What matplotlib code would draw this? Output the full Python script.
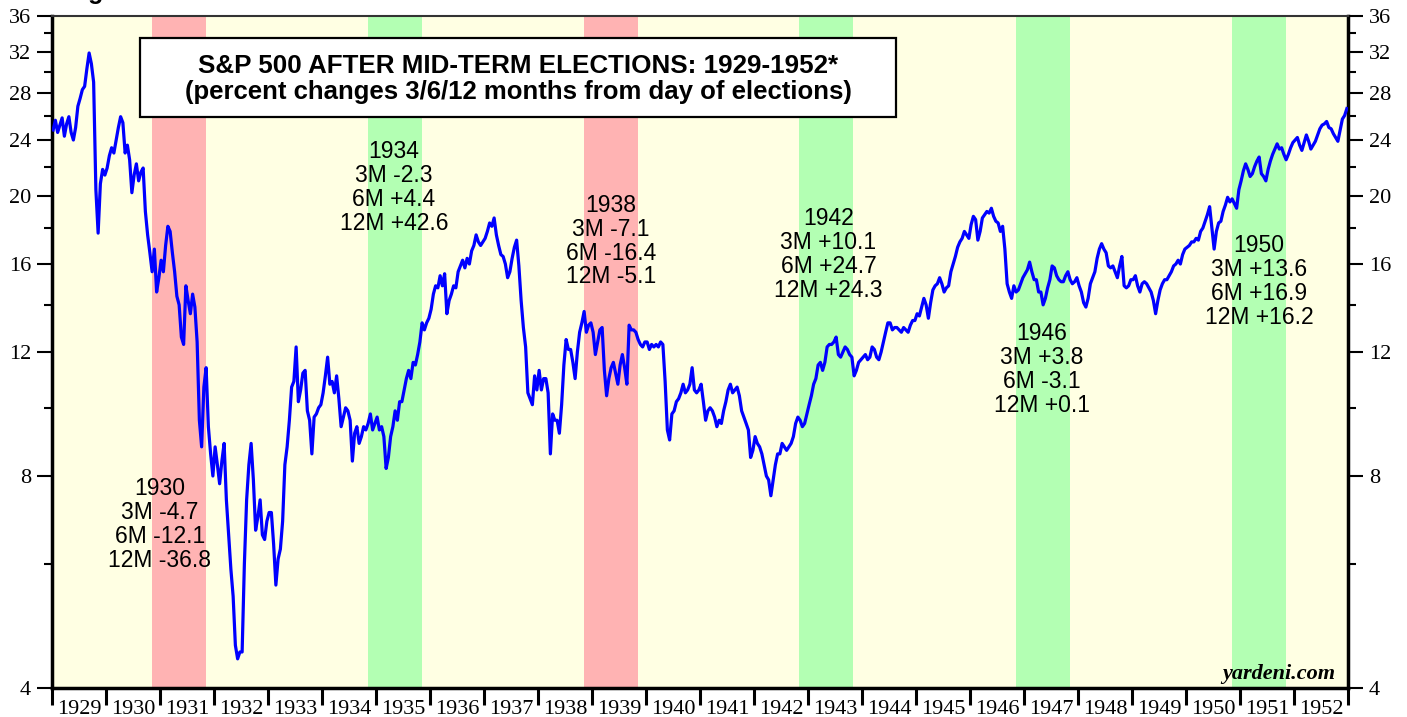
import numpy as np
import matplotlib
matplotlib.use("Agg")
import matplotlib.pyplot as plt
from matplotlib.ticker import FixedLocator, FixedFormatter, NullFormatter
from matplotlib.patches import Rectangle

# ---------------- data (semi-monthly S&P 500 readings, 1929-1952) ----------------
sp_1929 = [24.8, 25.6, 24.6, 25.2, 25.8, 24.3, 25.3, 25.9, 24.6, 24.0, 25.0, 26.8,
           27.5, 28.3, 28.6, 30.3, 31.9, 30.8, 29.0, 20.4, 17.7, 20.8, 21.8, 21.4]
sp_1930 = [21.9, 22.8, 23.4, 23.0, 24.0, 25.0, 25.9, 25.4, 23.0, 23.6, 22.5, 20.2,
           21.4, 22.2, 21.0, 21.6, 21.9, 19.0, 17.6, 16.6, 15.6, 16.8, 14.6, 15.3]
sp_1931 = [16.2, 15.6, 17.0, 18.1, 17.8, 16.6, 15.6, 14.4, 14.0, 12.6, 12.3, 14.9,
           14.2, 13.6, 14.5, 13.9, 12.4, 9.6, 8.8, 10.7, 11.4, 9.4, 8.6, 8.0]
sp_1932 = [8.8, 8.3, 7.8, 8.4, 8.9, 7.4, 6.6, 5.9, 5.4, 4.6, 4.4, 4.5,
           4.5, 6.0, 7.4, 8.3, 8.9, 7.9, 6.7, 7.0, 7.4, 6.6, 6.5, 6.9]
sp_1933 = [7.1, 7.1, 6.4, 5.6, 6.1, 6.3, 6.9, 8.3, 8.8, 9.6, 10.7, 10.9,
           12.2, 10.2, 10.6, 11.2, 11.3, 9.9, 9.6, 8.6, 9.7, 9.8, 10.0, 10.1]
sp_1934 = [10.5, 11.1, 11.8, 10.8, 10.9, 10.5, 11.1, 10.3, 9.4, 9.7, 10.0, 9.9,
           9.6, 8.4, 9.2, 9.4, 8.9, 9.1, 9.4, 9.3, 9.5, 9.8, 9.3, 9.5]
sp_1935 = [9.7, 9.3, 9.4, 9.1, 8.2, 8.5, 9.1, 9.4, 9.9, 9.6, 10.2, 10.2,
           10.6, 11.0, 11.3, 11.0, 11.6, 11.5, 11.9, 12.4, 13.2, 12.9, 13.2, 13.4]
sp_1936 = [13.8, 14.5, 14.9, 14.8, 15.4, 14.9, 15.5, 13.6, 14.2, 14.5, 14.9, 14.8,
           15.6, 15.9, 16.2, 15.8, 16.3, 16.0, 16.7, 17.0, 17.6, 17.2, 17.0, 17.2]
sp_1937 = [17.4, 17.8, 18.3, 18.1, 18.6, 17.6, 17.0, 16.5, 16.4, 16.0, 15.3, 15.6,
           16.3, 16.9, 17.3, 15.9, 14.2, 13.0, 12.2, 10.5, 10.3, 10.1, 11.1, 10.6]
sp_1938 = [11.3, 10.6, 11.0, 11.0, 10.5, 8.6, 9.8, 9.6, 9.6, 9.2, 10.1, 11.5,
           12.5, 12.1, 12.1, 11.6, 11.0, 12.0, 12.8, 13.2, 13.7, 12.8, 13.1, 13.2]
sp_1939 = [12.8, 11.9, 12.4, 12.9, 13.0, 11.3, 10.4, 11.0, 11.4, 11.6, 11.2, 10.8,
           11.5, 11.9, 11.4, 10.8, 13.1, 12.9, 12.9, 12.8, 12.5, 12.3, 12.2, 12.4]
sp_1940 = [12.4, 12.1, 12.3, 12.2, 12.3, 12.2, 12.4, 12.3, 10.9, 9.3, 9.0, 9.8,
           9.9, 10.2, 10.3, 10.5, 10.8, 10.5, 10.6, 10.8, 11.4, 10.6, 10.5, 10.6]
sp_1941 = [10.8, 10.2, 9.6, 9.9, 10.0, 9.9, 9.7, 9.4, 9.6, 9.5, 9.9, 10.2,
           10.6, 10.8, 10.5, 10.6, 10.7, 10.4, 9.9, 9.7, 9.5, 9.3, 8.5, 8.7]
sp_1942 = [9.1, 8.9, 8.8, 8.6, 8.3, 8.0, 7.9, 7.5, 7.9, 8.3, 8.6, 8.6,
           8.9, 8.8, 8.7, 8.8, 8.9, 9.1, 9.5, 9.7, 9.6, 9.4, 9.5, 9.8]
sp_1943 = [10.1, 10.4, 10.8, 11.0, 11.5, 11.6, 11.3, 11.6, 12.2, 12.3, 12.3, 12.4,
           12.6, 11.9, 11.8, 12.0, 12.2, 12.1, 11.9, 11.8, 11.1, 11.3, 11.6, 11.7]
sp_1944 = [11.8, 11.9, 11.7, 11.8, 12.2, 12.1, 11.8, 11.7, 12.0, 12.4, 12.8, 13.2,
           13.2, 12.9, 13.0, 13.0, 12.9, 12.8, 13.0, 12.9, 12.8, 13.1, 13.3, 13.3]
sp_1945 = [13.6, 13.5, 13.9, 14.3, 14.0, 13.4, 14.1, 14.7, 14.9, 15.0, 15.3, 15.0,
           14.6, 14.8, 14.9, 15.6, 16.0, 16.4, 16.9, 17.2, 17.4, 17.8, 17.6, 17.4]
sp_1946 = [18.2, 18.7, 18.5, 17.3, 17.8, 18.6, 18.8, 19.0, 18.9, 19.2, 18.7, 18.4,
           18.3, 17.8, 18.1, 16.8, 15.0, 14.6, 14.3, 14.9, 14.6, 14.7, 15.0, 15.3]
sp_1947 = [15.5, 15.7, 16.1, 15.6, 15.2, 15.2, 14.6, 14.6, 14.0, 14.3, 14.8, 15.2,
           15.9, 15.8, 15.4, 15.2, 15.1, 15.1, 15.4, 15.6, 15.2, 15.0, 15.1, 15.3]
sp_1948 = [14.9, 14.6, 14.1, 13.9, 14.3, 15.0, 15.3, 15.6, 16.3, 16.8, 17.1, 16.8,
           16.6, 15.9, 15.8, 15.9, 15.6, 15.3, 15.9, 16.4, 14.9, 14.8, 14.9, 15.2]
sp_1949 = [15.2, 15.4, 14.9, 14.6, 15.0, 15.1, 15.0, 14.8, 14.6, 14.2, 13.6, 14.2,
           14.7, 15.0, 15.2, 15.2, 15.4, 15.6, 15.9, 16.0, 16.2, 16.0, 16.5, 16.8]
sp_1950 = [16.9, 17.0, 17.2, 17.2, 17.4, 17.3, 17.8, 18.0, 18.4, 18.8, 19.3, 18.0,
           16.8, 17.8, 18.3, 18.4, 19.0, 19.4, 19.9, 19.6, 19.8, 19.5, 19.2, 20.4]
sp_1951 = [21.0, 21.7, 22.2, 21.8, 21.3, 21.5, 22.0, 22.4, 22.7, 21.5, 21.3, 21.0,
           21.8, 22.4, 22.9, 23.3, 23.7, 23.3, 23.4, 22.9, 22.5, 22.9, 23.4, 23.8]
sp_1952 = [24.0, 24.2, 23.6, 23.2, 23.8, 24.4, 23.9, 23.3, 23.6, 23.9, 24.4, 24.9,
           25.2, 25.3, 25.5, 25.0, 24.9, 24.5, 24.2, 23.9, 24.8, 25.7, 26.0, 26.6]

sp500 = (sp_1929 + sp_1930 + sp_1931 + sp_1932 + sp_1933 + sp_1934 + sp_1935 + sp_1936
         + sp_1937 + sp_1938 + sp_1939 + sp_1940 + sp_1941 + sp_1942 + sp_1943 + sp_1944
         + sp_1945 + sp_1946 + sp_1947 + sp_1948 + sp_1949 + sp_1950 + sp_1951 + sp_1952)
start_year = 1929
dates = start_year + (np.arange(len(sp500)) + 0.5) / 24.0

years = list(range(1929, 1953))
year_labels = [str(y) for y in years]

election_years = [1930, 1934, 1938, 1942, 1946, 1950]
election_doy = [308, 310, 312, 307, 309, 311]        # day of year of election day
election_party = ["R", "D", "R", "D", "D", "D"]     # colour group of each band
band_colors = {"R": "#FFB3B3", "D": "#B3FFB3"}

notes = [
    "1930\n3M -4.7\n6M -12.1\n12M -36.8",
    "1934\n3M -2.3\n6M +4.4\n12M +42.6",
    "1938\n3M -7.1\n6M -16.4\n12M -5.1",
    "1942\n3M +10.1\n6M +24.7\n12M +24.3",
    "1946\n3M +3.8\n6M -3.1\n12M +0.1",
    "1950\n3M +13.6\n6M +16.9\n12M +16.2",
]
note_x = [1931.0, 1935.33, 1939.35, 1943.38, 1947.33, 1951.35]
note_yfrac = [0.2435, 0.745, 0.665, 0.645, 0.474, 0.605]

y_major = [4, 8, 12, 16, 20, 24, 28, 32, 36]
y_minor = [6, 10, 14, 18, 22, 26, 30, 34]

title1 = "S&P 500 AFTER MID-TERM ELECTIONS: 1929-1952*"
title2 = "(percent changes 3/6/12 months from day of elections)"
header = "Figure"

# ---------------- figure ----------------
W, H, DPI = 1407, 717, 100
fig = plt.figure(figsize=(W / DPI, H / DPI), dpi=DPI)
fig.patch.set_facecolor("white")
ax = fig.add_axes([52 / W, (H - 688) / H, 1296 / W, 672 / H])
ax.set_facecolor("#FFFFE3")

for yr, doy, party in zip(election_years, election_doy, election_party):
    s = yr + doy / 365.0
    ax.axvspan(s, s + 1.0, color=band_colors[party], lw=0, zorder=1)

ax.plot(dates, sp500, color="#0000FF", lw=2.3, zorder=3, solid_joinstyle="round")

ax.set_yscale("log")
ax.set_ylim(4, 36)
ax.set_xlim(1929, 1953)

ax.yaxis.set_major_locator(FixedLocator(y_major))
ax.yaxis.set_major_formatter(FixedFormatter([str(v) for v in y_major]))
ax.yaxis.set_minor_locator(FixedLocator(y_minor))
ax.yaxis.set_minor_formatter(NullFormatter())

ax.xaxis.set_major_locator(FixedLocator(years + [1953]))
ax.xaxis.set_major_formatter(NullFormatter())
ax.xaxis.set_minor_locator(FixedLocator([y + 0.5 for y in years]))
ax.xaxis.set_minor_formatter(FixedFormatter(year_labels))

serif = "Liberation Serif"
ax.tick_params(axis="y", which="major", direction="out", length=11, width=1.5,
               left=True, right=True, labelleft=True, labelright=True,
               labelsize=16, pad=4, colors="black")
ax.tick_params(axis="y", which="minor", direction="out", length=6, width=1.5,
               left=True, right=True)
ax.tick_params(axis="x", which="major", direction="out", length=12, width=2.2)
ax.tick_params(axis="x", which="minor", length=0, labelsize=16, pad=9)
for lab in ax.get_yticklabels() + ax.get_xticklabels(minor=True):
    lab.set_fontfamily(serif)

for side in ["left", "right", "bottom"]:
    ax.spines[side].set_linewidth(2.5)
    ax.spines[side].set_color("black")
ax.spines["top"].set_linewidth(1.5)
ax.spines["top"].set_color("#333333")

# title box
ax.add_patch(Rectangle((88 / 1296, (688 - 117) / 672), 756 / 1296, 79 / 672,
                       transform=ax.transAxes, facecolor="white", edgecolor="black",
                       lw=1.6, zorder=5))
ax.text(0.3596, 0.9256, title1, transform=ax.transAxes, ha="center", va="center",
        fontsize=18.7, fontweight="bold", family="Liberation Sans", zorder=6)
ax.text(0.3596, 0.8869, title2, transform=ax.transAxes, ha="center", va="center",
        fontsize=18.5, fontweight="bold", family="Liberation Sans", zorder=6)

# annotations
for txt, xv, yf in zip(notes, note_x, note_yfrac):
    ax.text(xv, yf, txt, transform=ax.get_xaxis_transform(), ha="center", va="center",
            fontsize=16.5, family="Liberation Sans", linespacing=1.05, zorder=4)

ax.text(0.99, 0.006, "yardeni.com", transform=ax.transAxes, ha="right", va="bottom",
        fontsize=16, fontweight="bold", fontstyle="italic", family=serif, zorder=6)

# header at the very top of the picture, cut by the edge as in the source
fig.text(66 / W, 1.0 + 1 / H, header, ha="left", va="baseline",
         fontsize=18, fontweight="bold", family="Liberation Sans")

fig.savefig("out.png", dpi=DPI)
